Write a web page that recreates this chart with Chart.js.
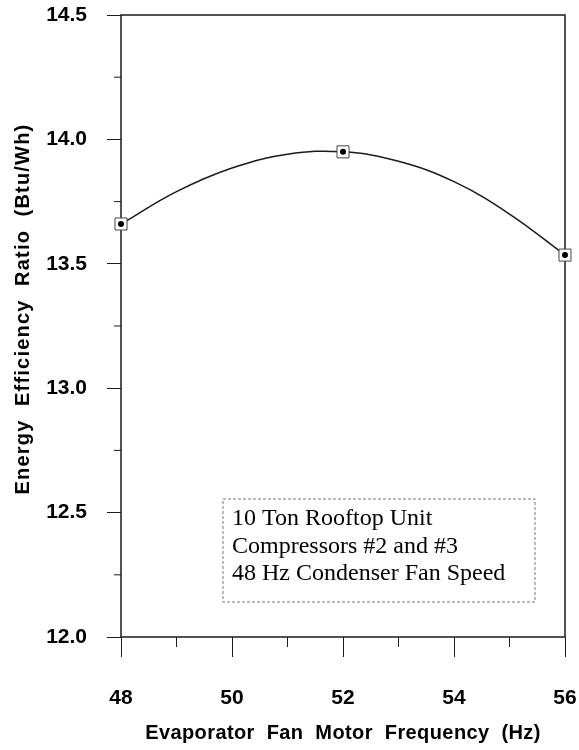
<!DOCTYPE html>
<html>
<head>
<meta charset="utf-8">
<script src="https://cdn.jsdelivr.net/npm/chart.js@4/dist/chart.umd.min.js"></script>
<style>
  html, body { margin: 0; padding: 0; background: #fff; }
  #wrap { width: 579px; height: 750px; }
</style>
</head>
<body>
<div id="wrap"><canvas id="eerChart"></canvas></div>
<script>
// measured points
const freqHz = [48, 52, 56];
const eerValues = [13.66, 13.95, 13.535];
// the drawn curve, read along its length
const curveHz = [48, 49, 50, 51, 52, 53, 54, 55, 56];
const curveEer = [13.66, 13.79, 13.885, 13.94, 13.95, 13.912, 13.83, 13.70, 13.535];
const minorX = [49, 51, 53, 55];
const minorY = [12.25, 12.75, 13.25, 13.75, 14.25];
const xTitle = 'Evaporator  Fan  Motor  Frequency  (Hz)';
const yTitle = 'Energy  Efficiency  Ratio  (Btu/Wh)';
const noteLines = ['10 Ton Rooftop Unit', 'Compressors #2 and #3', '48 Hz Condenser Fan Speed'];

const ink = '#1a1a1a';
const tickFont = { family: '"Liberation Sans", Arial, sans-serif', size: 21, weight: 'bold' };

const markers = freqHz.map((f, i) => ({ x: f, y: eerValues[i] }));
const curve = curveHz.map((f, i) => ({ x: f, y: curveEer[i] }));

const extras = {
  id: 'extras',
  beforeDatasetsDraw(chart) {
    const { ctx, chartArea: a, scales } = chart;
    ctx.save();
    ctx.strokeStyle = ink;
    ctx.lineWidth = 1.5;
    ctx.strokeRect(a.left, a.top, a.right - a.left, a.bottom - a.top);
    // minor ticks
    ctx.lineWidth = 1;
    ctx.beginPath();
    minorX.forEach(v => {
      const px = scales.x.getPixelForValue(v);
      ctx.moveTo(px, a.bottom); ctx.lineTo(px, a.bottom + 10);
    });
    minorY.forEach(v => {
      const py = scales.y.getPixelForValue(v);
      ctx.moveTo(a.left, py); ctx.lineTo(a.left - 7, py);
    });
    ctx.stroke();

    // note box
    const bx = a.left + 102, by = a.top + 484, bw = 312, bh = 103;
    ctx.strokeStyle = '#777';
    ctx.lineWidth = 1;
    ctx.setLineDash([3, 2]);
    ctx.strokeRect(bx, by, bw, bh);
    ctx.setLineDash([]);
    ctx.fillStyle = '#000';
    ctx.font = '24px "Liberation Serif", "Times New Roman", serif';
    ctx.textBaseline = 'alphabetic';
    ctx.textAlign = 'left';
    noteLines.forEach((t, i) => ctx.fillText(t, bx + 9, by + 26 + i * 27.5));
    ctx.restore();
  },
  afterDraw(chart) {
    const { ctx, chartArea: a } = chart;
    ctx.save();
    ctx.fillStyle = '#000';
    ctx.font = 'bold 20px "Liberation Sans", Arial, sans-serif';
    ctx.textAlign = 'center';
    ctx.textBaseline = 'middle';
    ctx.letterSpacing = '0.4px';
    ctx.fillText(xTitle, (a.left + a.right) / 2, 733);
    ctx.letterSpacing = '1.2px';
    ctx.translate(23, 309);
    ctx.rotate(-Math.PI / 2);
    ctx.fillText(yTitle, 0, 0);
    ctx.restore();
  }
};

new Chart(document.getElementById('eerChart'), {
  type: 'line',
  data: {
    datasets: [
      {
        data: curve,
        order: 2,
        borderColor: ink,
        borderWidth: 1.5,
        tension: 0.4,
        pointRadius: 0,
        clip: false
      },
      {
        data: markers,
        order: 1,
        showLine: false,
        pointStyle: 'rect',
        pointRadius: 8.5,
        pointBorderWidth: 1,
        pointBorderColor: '#444',
        pointBackgroundColor: '#fff',
        clip: false
      },
      {
        data: markers,
        order: 0,
        showLine: false,
        pointStyle: 'circle',
        pointRadius: 3,
        pointBorderWidth: 0,
        pointBackgroundColor: '#000',
        clip: false
      }
    ]
  },
  options: {
    responsive: true,
    maintainAspectRatio: false,
    animation: false,
    layout: { padding: { left: 0, top: 15, right: 14, bottom: 0 } },
    plugins: { legend: { display: false }, tooltip: { enabled: false } },
    scales: {
      x: {
        type: 'linear',
        min: 48, max: 56,
        border: { display: false },
        grid: { drawOnChartArea: false, tickLength: 20, tickColor: ink, tickWidth: 1 },
        ticks: { stepSize: 2, color: '#000', font: tickFont, padding: 29 },
        afterFit: s => { s.height = 113; s.paddingLeft = 0; s.paddingRight = 0; }
      },
      y: {
        min: 12, max: 14.5,
        border: { display: false },
        grid: { drawOnChartArea: false, tickLength: 14, tickColor: ink, tickWidth: 1 },
        ticks: { stepSize: 0.5, color: '#000', font: tickFont, padding: 20,
                 callback: v => v.toFixed(1) },
        afterFit: s => { s.width = 121; s.paddingTop = 0; s.paddingBottom = 0; }
      }
    }
  },
  plugins: [extras]
});
</script>
</body>
</html>
